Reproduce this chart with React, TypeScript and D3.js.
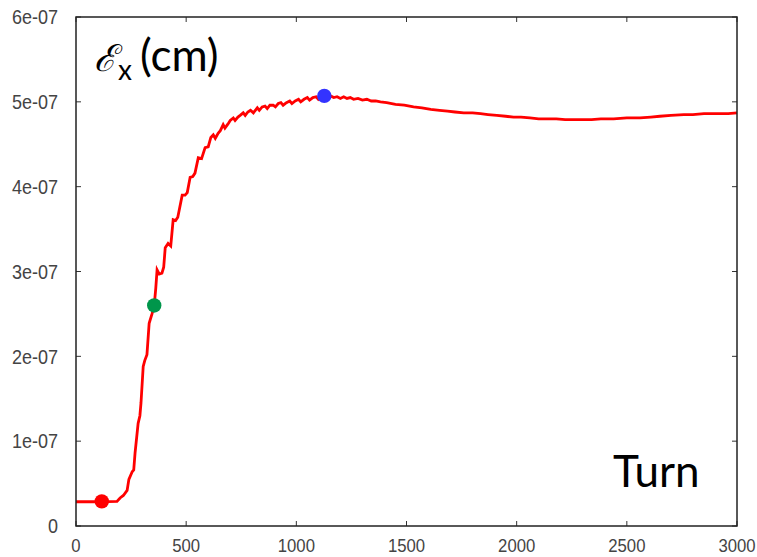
import React from "react";
import * as d3 from "d3";

const turns = [0, 100, 186, 200, 215, 232, 240, 255, 262, 268, 282, 290, 295, 305, 312, 322, 332, 345, 355, 362, 368, 378, 390, 398, 405, 418, 430, 441, 452, 462, 482, 495, 505, 518, 530, 540, 555, 570, 586, 600, 612, 623, 632, 645, 655, 668, 676, 690, 700, 714, 722, 735, 745, 759, 768, 780, 792, 805, 823, 832, 845, 858, 868, 880, 895, 905, 918, 930, 940, 955, 970, 980, 995, 1010, 1020, 1035, 1050, 1060, 1075, 1090, 1100, 1115, 1127, 1140, 1155, 1170, 1185, 1200, 1215, 1230, 1245, 1260, 1280, 1300, 1320, 1340, 1360, 1382, 1410, 1450, 1490, 1532, 1570, 1610, 1650, 1686, 1720, 1760, 1800, 1836, 1870, 1910, 1950, 1986, 2020, 2060, 2100, 2141, 2180, 2220, 2260, 2300, 2340, 2382, 2440, 2500, 2560, 2609, 2650, 2700, 2759, 2800, 2850, 2914, 2960, 3000];
const emittance = [0.286, 0.286, 0.29, 0.33, 0.36, 0.42, 0.55, 0.64, 0.66, 0.86, 1.21, 1.3, 1.45, 1.88, 1.95, 2.02, 2.39, 2.5, 2.6, 2.8, 3.02, 2.97, 2.98, 3.05, 3.28, 3.33, 3.3, 3.61, 3.6, 3.64, 3.9, 3.9, 3.93, 4.11, 4.12, 4.16, 4.34, 4.33, 4.46, 4.47, 4.58, 4.61, 4.57, 4.63, 4.66, 4.73, 4.69, 4.74, 4.78, 4.81, 4.78, 4.82, 4.84, 4.87, 4.84, 4.88, 4.9, 4.87, 4.93, 4.9, 4.94, 4.95, 4.92, 4.96, 4.96, 4.94, 4.98, 4.99, 4.96, 4.99, 5.01, 4.98, 5.01, 5.03, 5.0, 5.03, 5.05, 5.02, 5.05, 5.06, 5.03, 5.06, 5.07, 5.05, 5.07, 5.05, 5.06, 5.04, 5.06, 5.04, 5.05, 5.03, 5.04, 5.02, 5.03, 5.01, 5.01, 5.0, 4.99, 4.97, 4.96, 4.94, 4.93, 4.91, 4.9, 4.89, 4.88, 4.87, 4.87, 4.86, 4.85, 4.84, 4.83, 4.82, 4.82, 4.81, 4.8, 4.8, 4.8, 4.79, 4.79, 4.79, 4.79, 4.8, 4.8, 4.81, 4.81, 4.82, 4.83, 4.84, 4.85, 4.85, 4.86, 4.86, 4.86, 4.87].map((v) => v * 1e-7);

const markerTurns = [117, 355, 1127];
const markerValues = [0.29e-7, 2.6e-7, 5.07e-7];
const markerColors = ["#ff0000", "#00964b", "#3333ff"];

const xTicks = [0, 500, 1000, 1500, 2000, 2500, 3000];
const yTicks = [0, 1e-7, 2e-7, 3e-7, 4e-7, 5e-7, 6e-7];
const yTickLabels = ["0", "1e-07", "2e-07", "3e-07", "4e-07", "5e-07", "6e-07"];

const W = 757, H = 557;
const L = 76, R = 737, T = 17, B = 526;

export default function App() {
  const x = d3.scaleLinear().domain([0, 3000]).range([L, R]);
  const y = d3.scaleLinear().domain([0, 6e-7]).range([B, T]);
  const line = d3.line<number>().x((_, i) => x(turns[i])).y((d) => y(d));
  const tickFont = "'Liberation Sans', Arial, sans-serif";
  return (
    <svg width={W} height={H} style={{ position: "absolute", left: 0, top: 0, background: "#fff" }}>
      <rect x={0} y={0} width={W} height={H} fill="#fff" />
      {xTicks.map((t) => (
        <g key={"x" + t}>
          <line x1={x(t)} x2={x(t)} y1={B} y2={B - 5} stroke="#333" strokeWidth={1} />
          <line x1={x(t)} x2={x(t)} y1={T} y2={T + 5} stroke="#333" strokeWidth={1} />
          <text transform={`translate(${x(t)},552) scale(0.88,1)`} textAnchor="middle" fontFamily={tickFont} fontSize={19} fill="#444">{t}</text>
        </g>
      ))}
      {yTicks.map((t, i) => (
        <g key={"y" + i}>
          <line x1={L} x2={L + 5} y1={y(t)} y2={y(t)} stroke="#333" strokeWidth={1} />
          <line x1={R} x2={R - 5} y1={y(t)} y2={y(t)} stroke="#333" strokeWidth={1} />
          <text transform={`translate(58,${y(t)}) scale(0.9,1)`} dy="0.36em" textAnchor="end" fontFamily={tickFont} fontSize={20} fill="#444">{yTickLabels[i]}</text>
        </g>
      ))}
      <path d={line(emittance) || ""} fill="none" stroke="#ff0000" strokeWidth={2.8} strokeLinejoin="miter" />
      {markerTurns.map((t, i) => (
        <circle key={"m" + i} cx={x(t)} cy={y(markerValues[i])} r={7.2} fill={markerColors[i]} />
      ))}
      <rect x={L} y={T} width={R - L} height={B - T} fill="none" stroke="#222" strokeWidth={1.5} />
      <text x={94} y={71} fontFamily="'DejaVu Serif', serif" fontStyle="italic" fontSize={37} fill="#000">ℰ</text>
      <text x={118} y={80} fontFamily="Lato, sans-serif" fontSize={28} fill="#000">x</text>
      <text x={140} y={71} fontFamily="Lato, sans-serif" fontSize={44} fill="#000">(cm)</text>
      <text x={613} y={487} fontFamily="Lato, sans-serif" fontSize={44} fill="#000">Turn</text>
    </svg>
  );
}
